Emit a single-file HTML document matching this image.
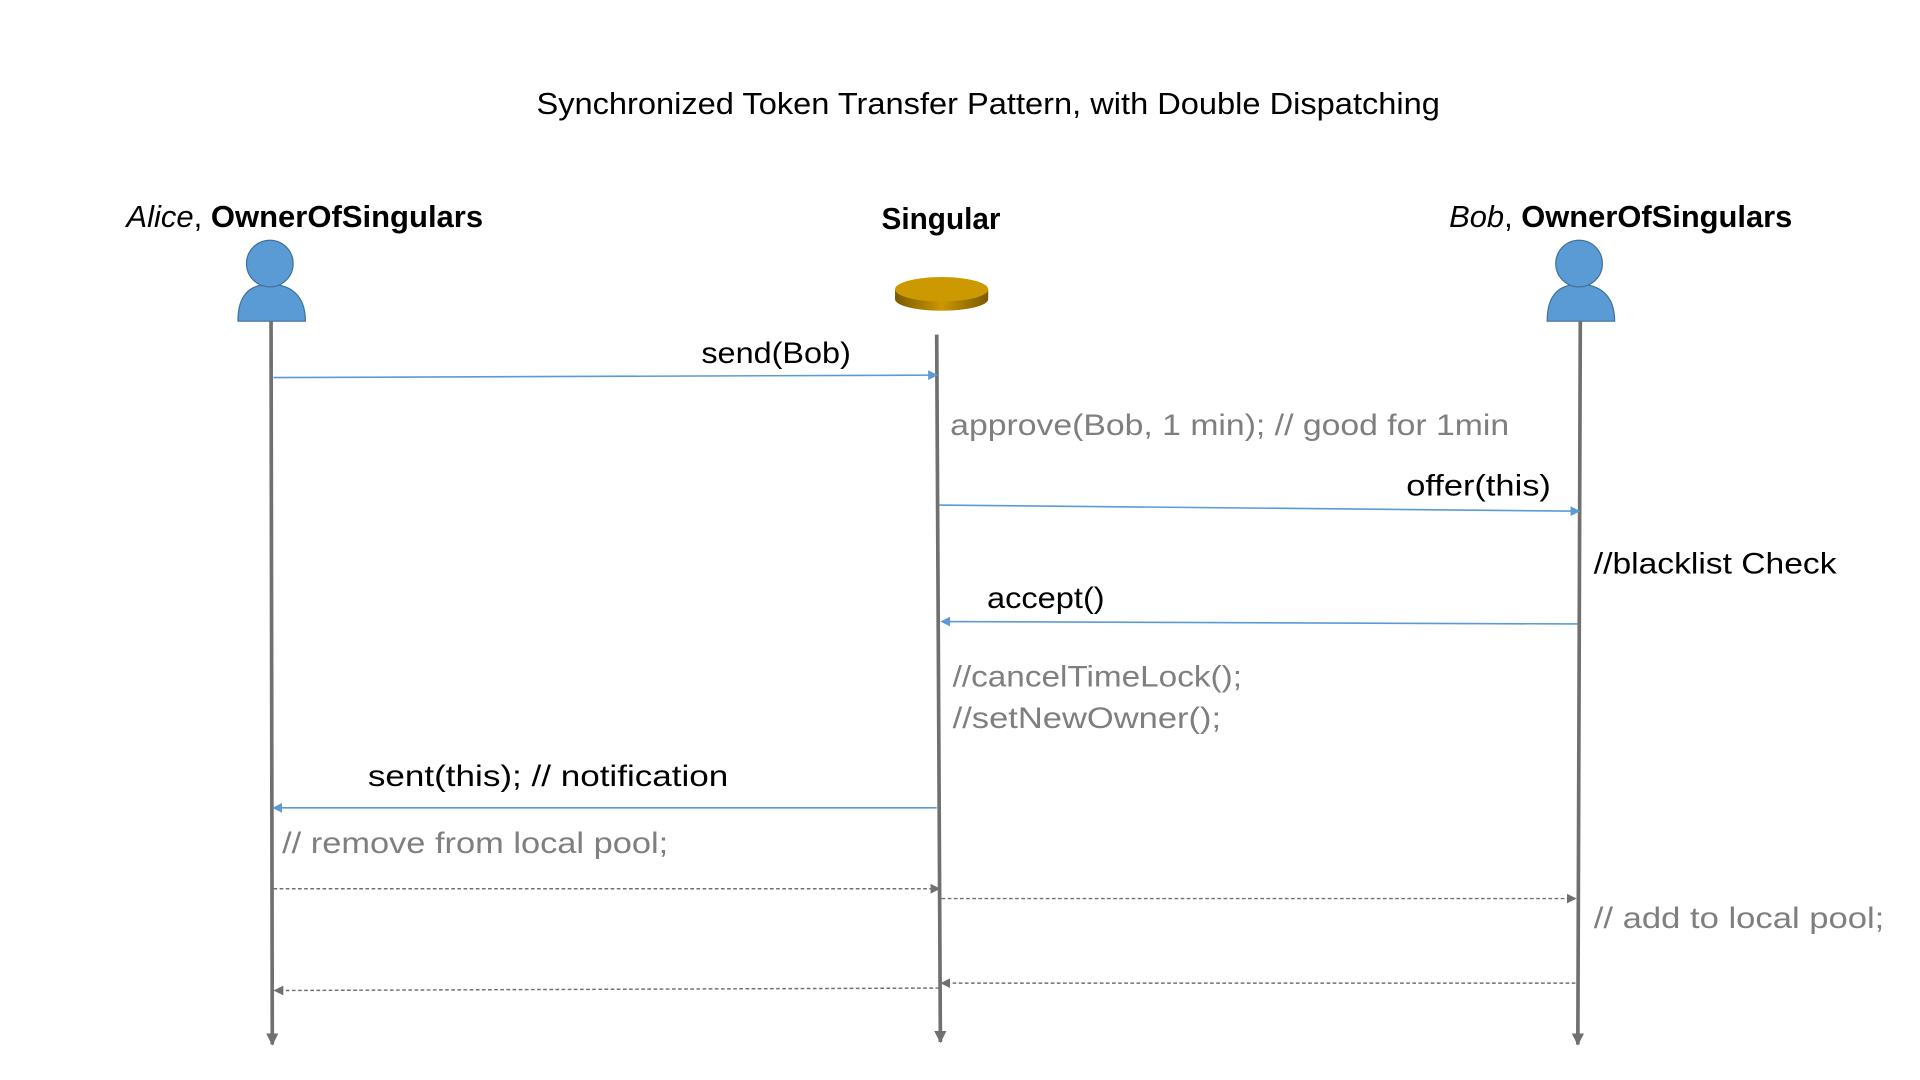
<!DOCTYPE html>
<html><head><meta charset="utf-8"><style>
html,body{margin:0;padding:0;background:#fff;width:1920px;height:1080px;overflow:hidden}
svg{display:block}
text{font-family:"Liberation Sans",sans-serif}
</style></head><body>
<svg width="1920" height="1080" viewBox="0 0 1566 881" xmlns="http://www.w3.org/2000/svg">
<defs>
<linearGradient id="cs" x1="0" x2="1"><stop offset="0" stop-color="#7a5a00"/><stop offset="0.5" stop-color="#c99700"/><stop offset="1" stop-color="#7a5a00"/></linearGradient>
<marker id="ab" markerWidth="8" markerHeight="8" refX="7" refY="4" orient="auto" markerUnits="userSpaceOnUse"><path d="M0,0 L8,4 L0,8 z" fill="#5b9bd5"/></marker>
<marker id="ag" markerWidth="8" markerHeight="8" refX="7" refY="4" orient="auto" markerUnits="userSpaceOnUse"><path d="M0,0 L8,4 L0,8 z" fill="#707070"/></marker>
<marker id="al" markerWidth="10" markerHeight="10" refX="9" refY="5" orient="auto" markerUnits="userSpaceOnUse"><path d="M0,0 L10,5 L0,10 z" fill="#707070"/></marker>
</defs>
<text x="806" y="93" font-size="25" text-anchor="middle" textLength="737" lengthAdjust="spacingAndGlyphs">Synchronized Token Transfer Pattern, with Double Dispatching</text>
<text x="103" y="185" font-size="25" textLength="291" lengthAdjust="spacingAndGlyphs"><tspan font-style="italic">Alice</tspan>, <tspan font-weight="bold">OwnerOfSingulars</tspan></text>
<text x="719" y="187" font-size="25" font-weight="bold" textLength="97" lengthAdjust="spacingAndGlyphs">Singular</text>
<text x="1182" y="185" font-size="25" textLength="280" lengthAdjust="spacingAndGlyphs"><tspan font-style="italic">Bob</tspan>, <tspan font-weight="bold">OwnerOfSingulars</tspan></text>
<g fill="#5b9bd5" stroke="#41719c" stroke-width="1">
<path d="M194,262 C194,240 204,232 220,232 C236,232 249,240 249,262 Z"/>
<circle cx="220" cy="215" r="19"/>
<path d="M1262,262 C1262,240 1272,232 1288,232 C1304,232 1317,240 1317,262 Z"/>
<circle cx="1288" cy="215" r="19"/>
</g>
<path d="M730,236 L730,244 A38,9.5 0 0 0 806,244 L806,236 Z" fill="url(#cs)"/>
<ellipse cx="768" cy="236" rx="38" ry="10" fill="#cc9900"/>
<g stroke="#707070" stroke-width="3" fill="none">
<line x1="221" y1="262" x2="222" y2="852" marker-end="url(#al)"/>
<line x1="764" y1="273" x2="767" y2="850" marker-end="url(#al)"/>
<line x1="1289" y1="262" x2="1287" y2="852" marker-end="url(#al)"/>
</g>
<g stroke="#5b9bd5" stroke-width="1.3">
<line x1="223" y1="308" x2="764" y2="306" marker-end="url(#ab)"/>
<line x1="766" y1="412" x2="1288" y2="417" marker-end="url(#ab)"/>
<line x1="1287" y1="509" x2="768" y2="507" marker-end="url(#ab)"/>
<line x1="764" y1="659" x2="223" y2="659" marker-end="url(#ab)"/>
</g>
<g stroke="#707070" stroke-width="1.2" stroke-dasharray="3,2">
<line x1="223" y1="725" x2="766" y2="725" marker-end="url(#ag)"/>
<line x1="768" y1="733" x2="1285" y2="733" marker-end="url(#ag)"/>
<line x1="1285" y1="802" x2="768" y2="802" marker-end="url(#ag)"/>
<line x1="766" y1="806" x2="224" y2="808" marker-end="url(#ag)"/>
</g>
<g font-size="24">
<text x="572" y="296" textLength="122" lengthAdjust="spacingAndGlyphs">send(Bob)</text>
<text x="775" y="355" fill="#7f7f7f" textLength="456" lengthAdjust="spacingAndGlyphs">approve(Bob, 1 min); // good for 1min</text>
<text x="1147" y="404" textLength="118" lengthAdjust="spacingAndGlyphs">offer(this)</text>
<text x="1300" y="468" textLength="198" lengthAdjust="spacingAndGlyphs">//blacklist Check</text>
<text x="805" y="496" textLength="96" lengthAdjust="spacingAndGlyphs">accept()</text>
<text x="777" y="560" fill="#7f7f7f" textLength="236" lengthAdjust="spacingAndGlyphs">//cancelTimeLock();</text>
<text x="777" y="594" fill="#7f7f7f" textLength="219" lengthAdjust="spacingAndGlyphs">//setNewOwner();</text>
<text x="300" y="641" textLength="294" lengthAdjust="spacingAndGlyphs">sent(this); // notification</text>
<text x="230" y="696" fill="#7f7f7f" textLength="315" lengthAdjust="spacingAndGlyphs">// remove from local pool;</text>
<text x="1300" y="757" fill="#7f7f7f" textLength="237" lengthAdjust="spacingAndGlyphs">// add to local pool;</text>
</g>
</svg>
</body></html>
